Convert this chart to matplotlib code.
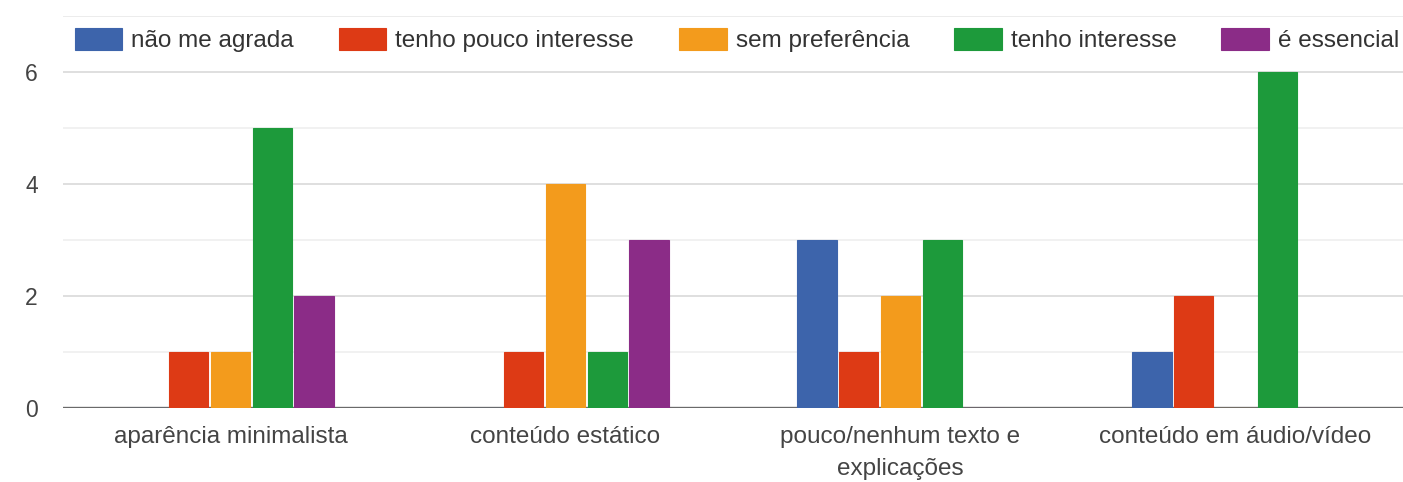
import numpy as np
import matplotlib.pyplot as plt

plt.rcParams['font.family'] = ['Liberation Sans', 'DejaVu Sans']

# Data
categories = ["aparência minimalista", "conteúdo estático",
              "pouco/nenhum texto e\nexplicações", "conteúdo em áudio/vídeo"]
series = ["não me agrada", "tenho pouco interesse", "sem preferência",
          "tenho interesse", "é essencial"]
nao_me_agrada = [0, 0, 3, 1]
pouco_interesse = [1, 1, 1, 2]
sem_preferencia = [1, 4, 2, 0]
tenho_interesse = [5, 1, 3, 6]
essencial = [2, 3, 0, 0]
values = [nao_me_agrada, pouco_interesse, sem_preferencia, tenho_interesse, essencial]
colors = ['#3d64ab', '#dd3a15', '#f39b1c', '#1d9a3b', '#8b2c87']

fig = plt.figure(figsize=(14.03, 4.82), dpi=100)
ax = fig.add_axes([0.0449, 0.1535, 0.9551, 0.8133])

x = np.arange(len(categories))
step = 0.125
width = 0.118
for i, (name, vals) in enumerate(zip(series, values)):
    ax.bar(x + (i - 2) * step, vals, width, color=colors[i], label=name,
           edgecolor=colors[i], linewidth=0.8, zorder=3)

ax.set_xlim(-0.5, 3.5)
ax.set_ylim(0, 7)
ax.set_yticks([0, 2, 4, 6])
ax.set_yticks([1, 3, 5, 7], minor=True)
ax.grid(axis='y', which='major', color='#d9d9d9', linewidth=1.2, zorder=0)
ax.grid(axis='y', which='minor', color='#efefef', linewidth=1.2, zorder=0)
ax.axhline(7, color='#d9d9d9', linewidth=1.2, zorder=0)
ax.axhline(0, color='#6a6a6a', linewidth=2.4, zorder=2)

for s in ax.spines.values():
    s.set_visible(False)
ax.tick_params(axis='both', which='both', length=0, colors='#444444')
ax.tick_params(axis='y', pad=18, labelsize=16.5)
ax.tick_params(axis='x', pad=13, labelsize=17.5)
ax.set_xticks(x)
ax.set_xticklabels(categories, linespacing=1.6)

ax.legend(ncol=5, loc='upper left', bbox_to_anchor=(0.009, 0.97), frameon=False,
          fontsize=17.5, handlelength=1.95, handleheight=1.0, handletextpad=0.37,
          columnspacing=1.85, borderaxespad=0, borderpad=0, labelcolor='#333333')

fig.savefig('out.png', dpi=100, facecolor='white')
